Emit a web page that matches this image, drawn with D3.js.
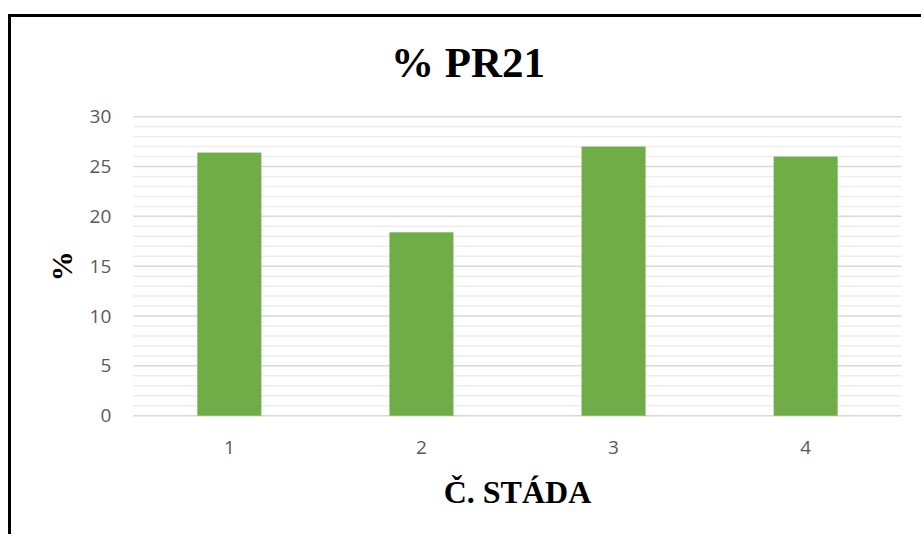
<!DOCTYPE html>
<html>
<head>
<meta charset="utf-8">
<script src="https://cdn.jsdelivr.net/npm/d3@7"></script>
<style>
  body { margin: 0; background: #fff; }
  svg { display: block; }
</style>
</head>
<body>
<script>
// herd numbers and % PR21 values
var herds = ['1', '2', '3', '4'];
var pr21 = [26.4, 18.4, 27.0, 26.0];
var yTicks = [0, 5, 10, 15, 20, 25, 30];

var width = 921, height = 534;
var plot = { left: 133.3, right: 901.7, top: 116.7, bottom: 415.7 };

var svg = d3.select('body').append('svg')
  .attr('width', width)
  .attr('height', height);

// outer frame (runs off the bottom/right of the picture)
svg.append('rect')
  .attr('x', 9.5).attr('y', 15.5)
  .attr('width', 930).attr('height', 540)
  .attr('fill', '#fff')
  .attr('stroke', '#000')
  .attr('stroke-width', 3);

var x = d3.scaleBand().domain(herds).range([plot.left, plot.right]).paddingInner(2/3).paddingOuter(1/3);
var y = d3.scaleLinear().domain([0, 30]).range([plot.bottom, plot.top]);

// minor gridlines every 1 unit
var minor = d3.range(0, 31).filter(v => v % 5 != 0);
svg.append('g').selectAll('line').data(minor).enter().append('line')
  .attr('x1', plot.left).attr('x2', plot.right)
  .attr('y1', d => y(d)).attr('y2', d => y(d))
  .attr('stroke', '#ededed').attr('stroke-width', 1.5);

// major gridlines
svg.append('g').selectAll('line').data(yTicks).enter().append('line')
  .attr('x1', plot.left).attr('x2', plot.right)
  .attr('y1', d => y(d)).attr('y2', d => y(d))
  .attr('stroke', '#d9d9d9').attr('stroke-width', 1.5);

// bars
svg.append('g').selectAll('rect').data(pr21).enter().append('rect')
  .attr('x', (d, i) => x(herds[i]))
  .attr('width', x.bandwidth())
  .attr('y', d => y(d))
  .attr('height', d => y(0) - y(d))
  .attr('fill', '#70ad47');

var tickFont = '"Open Sans", sans-serif';

// y axis labels
var yAxis = svg.append('g')
  .attr('transform', 'translate(' + (plot.left - 22) + ',0)')
  .call(d3.axisLeft(y).tickValues(yTicks).tickSize(0).tickPadding(0));
yAxis.select('.domain').remove();
yAxis.attr('font-size', 19).attr('font-family', tickFont);
yAxis.selectAll('text').attr('fill', '#595959');

// x axis labels
var xAxis = svg.append('g')
  .attr('transform', 'translate(0,' + (plot.bottom + 25) + ')')
  .call(d3.axisBottom(x).tickSize(0).tickPadding(0));
xAxis.select('.domain').remove();
xAxis.attr('font-size', 19).attr('font-family', tickFont);
xAxis.selectAll('text').attr('fill', '#595959');

// title (centred on the whole chart frame)
svg.append('text')
  .attr('x', 468)
  .attr('y', 77)
  .attr('text-anchor', 'middle')
  .attr('font-family', '"Liberation Serif", "Times New Roman", serif')
  .attr('font-weight', 'bold')
  .attr('font-size', 43)
  .attr('fill', '#000')
  .text('% PR21');

// x axis title
svg.append('text')
  .attr('x', (plot.left + plot.right) / 2)
  .attr('y', 503)
  .attr('text-anchor', 'middle')
  .attr('font-family', '"Liberation Serif", "Times New Roman", serif')
  .attr('font-weight', 'bold')
  .attr('font-size', 32)
  .attr('fill', '#000')
  .text('Č. STÁDA');

// y axis title
svg.append('text')
  .attr('transform', 'translate(72,' + (plot.top + plot.bottom) / 2 + ') rotate(-90)')
  .attr('text-anchor', 'middle')
  .attr('font-family', '"Liberation Serif", "Times New Roman", serif')
  .attr('font-weight', 'bold')
  .attr('font-size', 30)
  .attr('fill', '#000')
  .text('%');
</script>
</body>
</html>
